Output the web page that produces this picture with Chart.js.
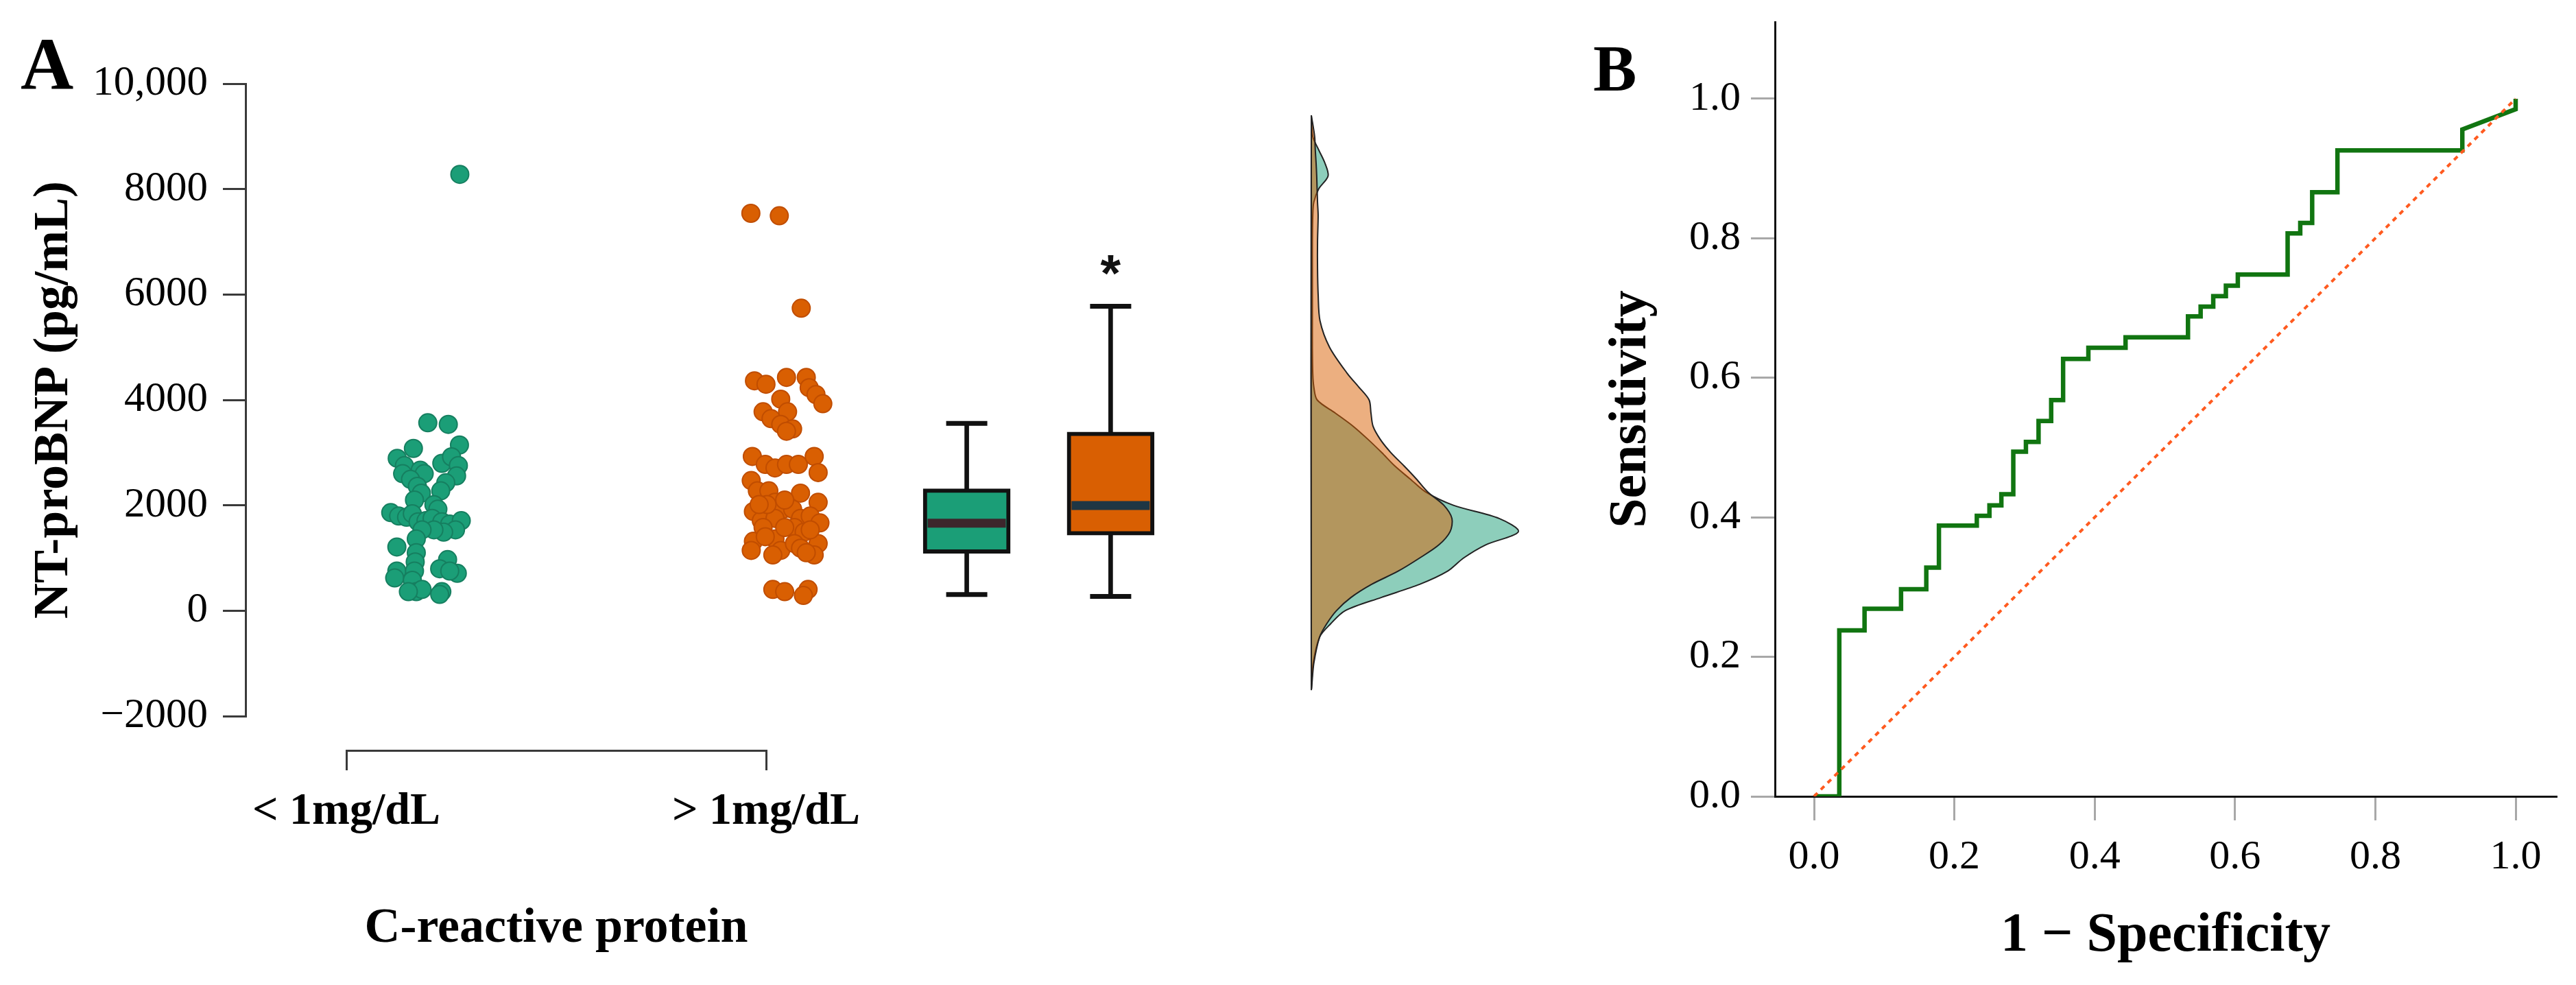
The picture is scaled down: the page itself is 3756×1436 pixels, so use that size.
<!DOCTYPE html>
<html>
<head>
<meta charset="utf-8">
<script src="https://cdn.jsdelivr.net/npm/chart.js@4.4.1/dist/chart.umd.min.js"></script>
<style>
html,body{margin:0;padding:0;background:#fff;}
#wrap{position:relative;width:3756px;height:1436px;overflow:hidden;background:#fff;}
#wrap canvas{position:absolute;top:0;}
.plabel{position:absolute;font-family:"Liberation Serif","Times New Roman",serif;font-weight:bold;color:#000;white-space:nowrap;}
</style>
</head>
<body>
<div id="wrap">
  <canvas id="chartA" width="2300" height="1436" style="left:0"></canvas>
  <canvas id="chartAx" width="2300" height="1436" style="left:0"></canvas>
  <canvas id="chartB" width="1456" height="1436" style="left:2300px"></canvas>
  <div class="plabel" style="left:30px;top:41px;font-size:107px;line-height:107px">A</div>
  <div class="plabel" style="left:2323px;top:53px;font-size:95px;line-height:95px">B</div>
</div>
<script>
// ---------------- DATA ----------------
const categories = ['< 1mg/dL', '> 1mg/dL'];
const groupPos = [0, 1];
const boxPos = [1.5, 1.9];

const greenVals = [3566,3536,3079,3144,2892,2753,2666,2600,2796,2920,2753,2557,2427,2275,2600,2492,2361,2231,2100,2013,1926,1861,1796,1774,1840,1687,1709,1753,1687,1644,1709,1535,1491,1535,1535,1361,1209,1100,926,970,796,709,753,753,622,753,578,361,404,361,361,310,8280];
const greenJit = [0.002,0.059,-0.038,0.090,-0.083,-0.063,-0.019,-0.008,0.041,0.068,0.087,0.082,0.052,0.038,-0.068,-0.046,-0.027,-0.016,-0.035,0.019,0.030,-0.101,-0.079,-0.057,-0.041,-0.025,-0.003,0.014,0.041,0.063,0.095,0.079,0.046,0.019,-0.014,-0.030,-0.084,-0.030,-0.033,0.057,0.035,0.084,0.063,-0.084,-0.090,-0.035,-0.041,-0.030,-0.014,-0.052,0.041,0.035,0.091];

const orangeVals = [4362,4297,4427,4427,4232,4101,3927,4014,3775,3775,3644,3536,3449,3405,2927,2775,2709,2775,2775,2927,2622,2470,2231,2057,2274,2274,2057,1927,1883,1709,1753,1927,1753,1796,1666,1579,1492,1318,1361,1144,1144,1057,1274,1187,1274,1057,1100,1579,2014,2100,2014,404,361,404,290,1579,1405,1535,7540,7494,5740];
const orangeJit = [-0.090,-0.058,-0.001,0.054,0.062,0.081,0.100,-0.017,0.002,-0.066,-0.044,-0.017,0.016,-0.001,-0.096,-0.060,-0.033,-0.001,0.032,0.076,0.087,-0.099,0.038,0.087,-0.082,-0.050,-0.033,-0.011,-0.093,-0.071,-0.033,0.016,0.038,0.065,0.092,0.021,0.048,-0.093,-0.033,-0.017,-0.099,-0.039,0.021,0.038,0.087,0.076,0.054,-0.066,-0.055,-0.006,-0.077,-0.039,-0.006,0.059,0.046,-0.006,-0.060,0.065,-0.100,-0.021,0.040];

const boxQ1 = [1088, 1433];
const boxMed = [1660, 1996];
const boxQ3 = [2312, 3390];
const whiskLo = [307, 270];
const whiskHi = [3553, 5775];
const sigValue = 6580;

const densGrid = [9400,9000,8750,8500,8250,8000,7750,7500,7000,6500,6000,5500,5000,4500,4250,4000,3750,3500,3250,3000,2750,2500,2250,2000,1750,1500,1250,1000,750,500,250,0,-250,-500,-1000,-1473];
const densGreen = [0,.007,.035,.065,.081,.035,.012,.007,.005,.005,.005,.005,.005,.007,.012,.028,.116,.202,.274,.340,.402,.477,.553,.686,.907,1.000,.842,.735,.658,.523,.337,.163,.093,.040,.009,0];
const densOrange = [0,.016,.019,.023,.026,.028,.030,.033,.030,.030,.033,.042,.088,.174,.228,.279,.288,.298,.333,.384,.447,.507,.563,.640,.679,.670,.616,.523,.419,.291,.191,.121,.074,.040,.012,0];

const yTicksA = [-2000,0,2000,4000,6000,8000,10000];
const yTickLabelsA = ['\u22122000','0','2000','4000','6000','8000','10,000'];

const rocFPR = [0,0.036,0.036,0.072,0.072,0.124,0.124,0.160,0.160,0.178,0.178,0.232,0.232,0.250,0.250,0.267,0.267,0.284,0.284,0.302,0.302,0.320,0.320,0.338,0.338,0.355,0.355,0.391,0.391,0.444,0.444,0.533,0.533,0.551,0.551,0.569,0.569,0.587,0.587,0.604,0.604,0.675,0.675,0.693,0.693,0.710,0.710,0.746,0.746,0.924,0.924,1.0,1.0];
const rocTPR = [0,0,0.238,0.238,0.269,0.269,0.297,0.297,0.328,0.328,0.388,0.388,0.402,0.402,0.417,0.417,0.433,0.433,0.494,0.494,0.508,0.508,0.538,0.538,0.568,0.568,0.627,0.627,0.643,0.643,0.658,0.658,0.688,0.688,0.702,0.702,0.717,0.717,0.732,0.732,0.748,0.748,0.807,0.807,0.822,0.822,0.866,0.866,0.926,0.926,0.956,0.985,1.0];
const refX = [0, 1];
const refY = [0, 1];
const rocTicks = [0,0.2,0.4,0.6,0.8,1.0];
const rocTickLabels = ['0.0','0.2','0.4','0.6','0.8','1.0'];

// ---------------- STYLE ----------------
const SERIF = '"Liberation Serif","Times New Roman",serif';
const GREEN = '#1B9E77', ORANGE = '#D95F02';
Chart.defaults.font.family = SERIF;

// layout constants (pixels)
const A_LEFT = 358, A_RIGHT = 2300, A_TOP = 122, A_BOTTOM = 1044;
const G0 = 505, G1 = 1117;           // pixel of group positions
const unitPx = (G1 - G0) / (groupPos[1] - groupPos[0]);
const D0 = 1912, dUnitPx = 302;      // density baseline and width scale

const sigPlugin = {
  id: 'sig',
  afterDatasetsDraw(chart) {
    const {ctx, scales} = chart;
    const x = scales.x.getPixelForValue(boxPos[1]);
    const y = scales.y.getPixelForValue(sigValue);
    ctx.save();
    ctx.font = 'bold 76px "Liberation Sans", Arial, sans-serif';
    ctx.fillStyle = '#111';
    ctx.textAlign = 'center';
    ctx.textBaseline = 'middle';
    ctx.fillText('*', x, y + 18);
    ctx.restore();
  }
};

function closeShape(arr) {
  const pts = arr.map((d, i) => ({x: d, y: densGrid[i]}));
  pts.push({x: 0, y: densGrid[0]});
  return pts;
}

new Chart(document.getElementById('chartA'), {
  type: 'scatter',
  data: {
    datasets: [
      { type: 'line', xAxisID: 'xd', yAxisID: 'y', data: closeShape(densGreen),
        borderColor: '#222', borderWidth: 2, backgroundColor: 'rgba(27,158,119,0.5)',
        fill: 'shape', tension: 0.3, pointRadius: 0, order: 10 },
      { type: 'line', xAxisID: 'xd', yAxisID: 'y', data: closeShape(densOrange),
        borderColor: '#222', borderWidth: 2, backgroundColor: 'rgba(217,95,2,0.5)',
        fill: 'shape', tension: 0.3, pointRadius: 0, order: 9 },
      { type: 'scatter', xAxisID: 'x', yAxisID: 'y',
        data: greenVals.map((v, i) => ({x: groupPos[0] + greenJit[i], y: v})),
        pointRadius: 13, pointBackgroundColor: GREEN, pointBorderColor: '#167f60', pointBorderWidth: 2, order: 6 },
      { type: 'scatter', xAxisID: 'x', yAxisID: 'y',
        data: orangeVals.map((v, i) => ({x: groupPos[1] + orangeJit[i], y: v})),
        pointRadius: 13, pointBackgroundColor: ORANGE, pointBorderColor: '#c04d00', pointBorderWidth: 2, order: 5 },
      { type: 'bar', xAxisID: 'x', yAxisID: 'y',
        data: boxPos.map((p, i) => ({x: p, y: [whiskLo[i], boxQ1[i]]})),
        backgroundColor: '#111', borderWidth: 0, barThickness: 6, grouped: false, order: 4 },
      { type: 'bar', xAxisID: 'x', yAxisID: 'y',
        data: boxPos.map((p, i) => ({x: p, y: [boxQ3[i], whiskHi[i]]})),
        backgroundColor: '#111', borderWidth: 0, barThickness: 6, grouped: false, order: 4 },
      { type: 'bar', xAxisID: 'x', yAxisID: 'y',
        data: boxPos.map((p, i) => ({x: p, y: [boxQ1[i], boxQ3[i]]})),
        backgroundColor: [GREEN, ORANGE], borderColor: '#111', borderWidth: 6, borderSkipped: false,
        barThickness: 127, grouped: false, order: 3 },
      { type: 'scatter', xAxisID: 'x', yAxisID: 'y',
        data: boxPos.flatMap((p, i) => [{x: p, y: whiskLo[i]}, {x: p, y: whiskHi[i]}]),
        pointStyle: 'line', pointRadius: 30, pointBorderWidth: 7, pointBorderColor: '#111', order: 2 },
      { type: 'scatter', xAxisID: 'x', yAxisID: 'y',
        data: boxPos.map((p, i) => ({x: p, y: boxMed[i]})),
        pointStyle: 'line', pointRadius: 57, pointBorderWidth: 13,
        pointBorderColor: ['#3d262c', '#1f3644'], order: 1 }
    ]
  },
  options: {
    responsive: false, animation: false, devicePixelRatio: 1,
    layout: {autoPadding: false, padding: {top: A_TOP, bottom: 1436 - A_BOTTOM, left: 0, right: 0}},
    plugins: {legend: {display: false}, tooltip: {enabled: false}},
    scales: {
      x: {type: 'linear', display: false,
          min: groupPos[0] - (G0 - A_LEFT) / unitPx, max: groupPos[0] + (A_RIGHT - G0) / unitPx},
      xd: {type: 'linear', display: false,
          min: -(D0 - A_LEFT) / dUnitPx, max: (A_RIGHT - D0) / dUnitPx},
      y: {type: 'linear', min: -2000, max: 10000,
          afterFit(s) { s.width = A_LEFT; },
          afterBuildTicks(s) { s.ticks = yTicksA.map(v => ({value: v})); },
          ticks: {callback: (v, i) => yTickLabelsA[i], font: {family: SERIF, size: 61}, color: '#000', padding: 22},
          grid: {drawOnChartArea: false, drawTicks: true, tickLength: 33, color: '#3a3a3a', lineWidth: 3},
          border: {display: true, color: '#3a3a3a', width: 3},
          title: {display: true, text: 'NT-proBNP (pg/mL)', color: '#000',
                  font: {family: SERIF, size: 72, weight: 'bold'}, padding: {top: 36, bottom: 0}}}
    }
  },
  plugins: [sigPlugin]
});

new Chart(document.getElementById('chartAx'), {
  type: 'scatter',
  data: {datasets: []},
  options: {
    responsive: false, animation: false, devicePixelRatio: 1,
    layout: {autoPadding: false, padding: {left: G0, right: 2300 - G1, top: 0, bottom: 0}},
    plugins: {legend: {display: false}, tooltip: {enabled: false}},
    scales: {
      x: {type: 'linear', min: groupPos[0], max: groupPos[1],
          afterFit(s) { s.height = 1436 - 1094; },
          afterBuildTicks(s) { s.ticks = groupPos.map(v => ({value: v})); },
          ticks: {callback: (v, i) => categories[i], font: {family: SERIF, size: 66, weight: 'bold'},
                  color: '#000', padding: 21, maxRotation: 0, autoSkip: false},
          grid: {drawOnChartArea: false, tickLength: 29, color: '#3a3a3a', lineWidth: 3},
          border: {display: true, color: '#3a3a3a', width: 3},
          title: {display: true, text: 'C-reactive protein', color: '#000',
                  font: {family: SERIF, size: 72, weight: 'bold'}, padding: {top: 0, bottom: 38}}},
      y: {type: 'linear', display: false, min: 0, max: 1}
    }
  }
});

const B_LEFT = 288, B_TOP = 32, B_BOTTOM = 1161, B_RIGHT = 1427;
const bx0 = 2645 - 2300, bxUnit = 1023;
new Chart(document.getElementById('chartB'), {
  type: 'scatter',
  data: {
    datasets: [
      { type: 'line', data: refX.map((x, i) => ({x, y: refY[i]})),
        borderColor: '#ff5a1f', borderWidth: 4, borderDash: [7, 7], pointRadius: 0, fill: false, order: 1 },
      { type: 'line', data: rocFPR.map((x, i) => ({x, y: rocTPR[i]})),
        borderColor: '#117511', borderWidth: 6.5, pointRadius: 0, fill: false, tension: 0, order: 2 }
    ]
  },
  options: {
    responsive: false, animation: false, devicePixelRatio: 1,
    layout: {autoPadding: false, padding: {top: B_TOP, right: 1456 - B_RIGHT, bottom: 0, left: 0}},
    plugins: {legend: {display: false}, tooltip: {enabled: false}},
    scales: {
      x: {type: 'linear', min: -(bx0 - B_LEFT) / bxUnit, max: (B_RIGHT - bx0) / bxUnit,
          afterFit(s) { s.height = 1436 - B_BOTTOM; s.paddingLeft = 0; s.paddingRight = 0; },
          afterBuildTicks(s) { s.ticks = rocTicks.map(v => ({value: v})); },
          ticks: {callback: (v, i) => rocTickLabels[i], font: {family: SERIF, size: 60}, color: '#000',
                  padding: 18, maxRotation: 0, autoSkip: false},
          grid: {drawOnChartArea: false, tickLength: 35, color: '#a8a8a8', lineWidth: 3},
          border: {display: true, color: '#111', width: 3},
          title: {display: true, text: '1 \u2212 Specificity', color: '#000',
                  font: {family: SERIF, size: 80, weight: 'bold'}, padding: {top: 0, bottom: 23}}},
      y: {type: 'linear', min: 0, max: 1.11,
          afterFit(s) { s.width = B_LEFT; s.paddingTop = 0; s.paddingBottom = 0; },
          afterBuildTicks(s) { s.ticks = rocTicks.map(v => ({value: v})); },
          ticks: {callback: (v, i) => rocTickLabels[i], font: {family: SERIF, size: 60}, color: '#000', padding: 15},
          grid: {drawOnChartArea: false, tickLength: 35, color: '#a8a8a8', lineWidth: 3},
          border: {display: true, color: '#111', width: 3},
          title: {display: true, text: 'Sensitivity', color: '#000',
                  font: {family: SERIF, size: 78, weight: 'bold'}, padding: {top: 32, bottom: 0}}}
    }
  }
});
</script>
</body>
</html>
